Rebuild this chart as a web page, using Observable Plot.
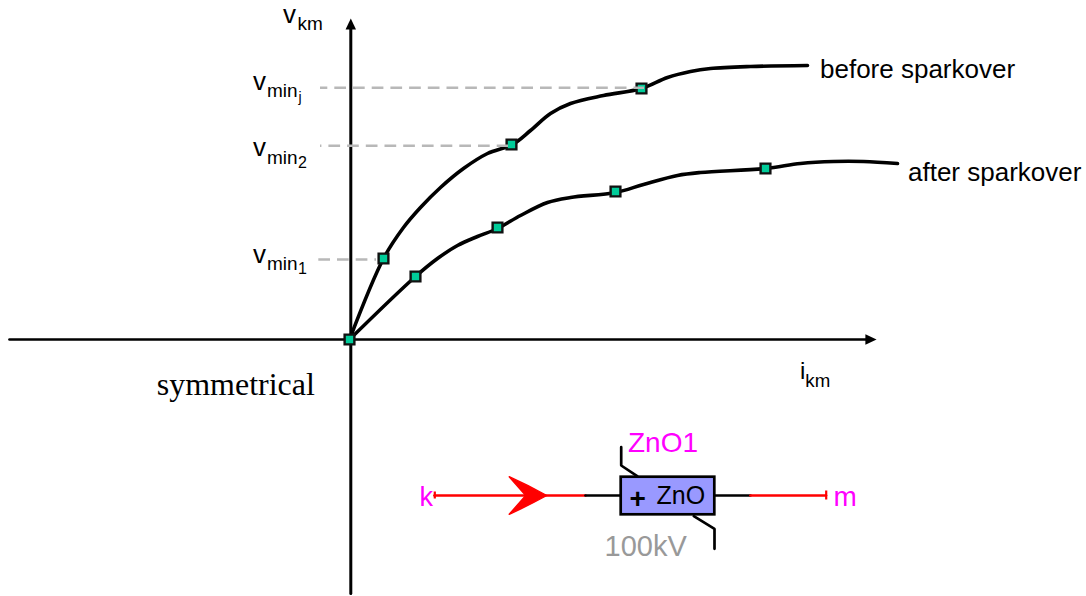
<!DOCTYPE html>
<html><head><meta charset="utf-8">
<script src="https://cdn.jsdelivr.net/npm/d3@7"></script>
<script src="https://cdn.jsdelivr.net/npm/@observablehq/plot@0.6"></script>
<style>html,body{margin:0;padding:0;background:#fff}svg{display:block}</style>
</head><body><div id="chart"></div>
<script>
const beforeCurve = [[0,0],[34,81],[54,112],[71,132],[91,152],[114,171],[138,186],[163,195],[181,209],[201,226],[221,236],[254,244],[292,251],[318,262],[341,268],[361,271],[401,273],[458,274]];
const afterCurve = [[0,0],[66,63],[88,81],[108,94],[128,103],[148,111],[171,124],[198,137],[221,142],[266,147],[294,155],[328,164],[351,167],[416,171],[451,176],[484,178],[514,178],[548,176]];
const beforeMarkers = [[0,0],[34,81],[162,195],[292,251]];
const afterMarkers = [[66,63],[148,112],[266,148],[416,171]];
const curveNames = ["before sparkover","after sparkover"];
const axisMain = "v", axisSub = "km", axisXMain = "i";
const guideMain = "v", guideSub = "min", guideIdx = ["1","2","j"];
const deviceLabels = ["ZnO1","ZnO","+","100kV","k","m"];

const W=1086,H=596,ox=349,oy=339;
const sans="Liberation Sans", serif="Liberation Serif";
const label=(text,x,y,fontSize,fill="#000",fontFamily=sans,extra={})=>
  Plot.text([{text,x,y}],{x:"x",y:"y",text:"text",textAnchor:"start",lineAnchor:"bottom",fontSize,fill,fontFamily,...extra});
const seg=(pts,stroke="#000",strokeWidth=2.7)=>Plot.line(pts,{stroke,strokeWidth,curve:"linear",strokeLinejoin:"miter"});
const guide=(y,x1,x2,off)=>Plot.ruleY([y],{x1,x2,stroke:"#b8b8b8",strokeWidth:2.5,strokeDasharray:"11.7 7",strokeDashoffset:off});

const head={draw(c,size){const r=Math.sqrt(size/Math.PI);c.moveTo(r,0);c.lineTo(-r,-r*0.95);c.lineTo(-r,r*0.95);c.closePath();}};
const headUp={draw(c,size){const r=Math.sqrt(size/Math.PI);c.moveTo(0,-r);c.lineTo(-r*0.95,r);c.lineTo(r*0.95,r);c.closePath();}};
const redHead={draw(c,size){const r=Math.sqrt(size/Math.PI);
  c.moveTo(r,0);
  c.quadraticCurveTo(0,-r*0.55,-r,-r);
  c.lineTo(-r*0.12,0);
  c.lineTo(-r,r);
  c.quadraticCurveTo(0,r*0.55,r,0);
  c.closePath();}};

const plot = Plot.plot({
  width:W,height:H,margin:0,
  x:{domain:[-ox,W-ox],axis:null},
  y:{domain:[oy-H,oy],axis:null},
  marks:[
    seg([[-340,0],[520,0]],"#000",2.7),
    seg([[1.3,-254],[1.3,312]],"#000",3),
    Plot.dot([[521.5,0]],{symbol:head,r:5.6,fill:"#000"}),
    Plot.dot([[1.3,315.5]],{symbol:headUp,r:5.5,fill:"#000"}),
    guide(80,-30.7,27,0),
    Plot.line(beforeCurve,{curve:"catmull-rom",stroke:"#000",strokeWidth:3.6}),
    Plot.line(afterCurve,{curve:"catmull-rom",stroke:"#000",strokeWidth:3.6}),
    Plot.dot(beforeMarkers.concat(afterMarkers),{symbol:"square",r:5.5,fill:"#00cc99",stroke:"#111",strokeWidth:2.4}),
    guide(193.7,-29,159,10.3),
    guide(251.7,-29,295,4.4),

    label(curveNames[0],470.5,262,26),
    label(curveNames[1],558.5,159,26),
    label("symmetrical",-192.8,-55,32,"#000",serif),
    label(axisMain,-66.5,316.3,26),
    label(axisSub,-52,309.7,19),
    label(guideMain,-96.5,249.7,26), label(guideSub,-82.5,243,19), label(guideIdx[2],-51,238,14),
    label(guideMain,-96.5,184,26), label(guideSub,-82.5,175.7,19), label(guideIdx[1],-51.5,171.3,16),
    label(guideMain,-96.5,76.7,26), label(guideSub,-82.5,70,19), label(guideIdx[0],-51.5,65.7,16),
    label(axisXMain,450.5,-39,24), label(axisSub,455.8,-47.7,18.7),

    seg([[85,-156],[236,-156]],"#ff0000"),
    seg([[236,-156],[272,-156]]),
    seg([[365,-156],[401,-156]]),
    seg([[401,-156],[476.5,-156]],"#ff0000"),
    Plot.ruleX([85.3],{y1:-152.5,y2:-159.5,stroke:"#ff0000",strokeWidth:2.2}),
    Plot.ruleX([476.7],{y1:-151.5,y2:-160.5,stroke:"#ff0000",strokeWidth:2.2}),
    Plot.dot([[178.5,-156]],{symbol:redHead,r:18.8,fill:"#ff0000",stroke:"#ff0000",strokeWidth:1.4,strokeLinejoin:"round"}),
    seg([[271.7,-107.7],[271.7,-126],[287.7,-136.7]]),
    seg([[344.3,-176.7],[365,-189.3],[365,-209.3]]),
    Plot.rect([{a:271.7,b:365.3,c:-137.7,d:-175.3}],{x1:"a",x2:"b",y1:"c",y2:"d",fill:"#9999ff",stroke:"#000",strokeWidth:2.7}),
    label(deviceLabels[0],278.5,-112.7,28,"#ff00ff"),
    label(deviceLabels[1],307,-164.3,25),
    label(deviceLabels[2],280,-168,28,"#000",sans,{fontWeight:"bold"}),
    label(deviceLabels[3],255,-216,29,"#999999"),
    label(deviceLabels[4],70,-166,27,"#ff00ff"),
    label(deviceLabels[5],484,-166,28,"#ff00ff")
  ]
});
document.getElementById("chart").appendChild(plot);
</script></body></html>
